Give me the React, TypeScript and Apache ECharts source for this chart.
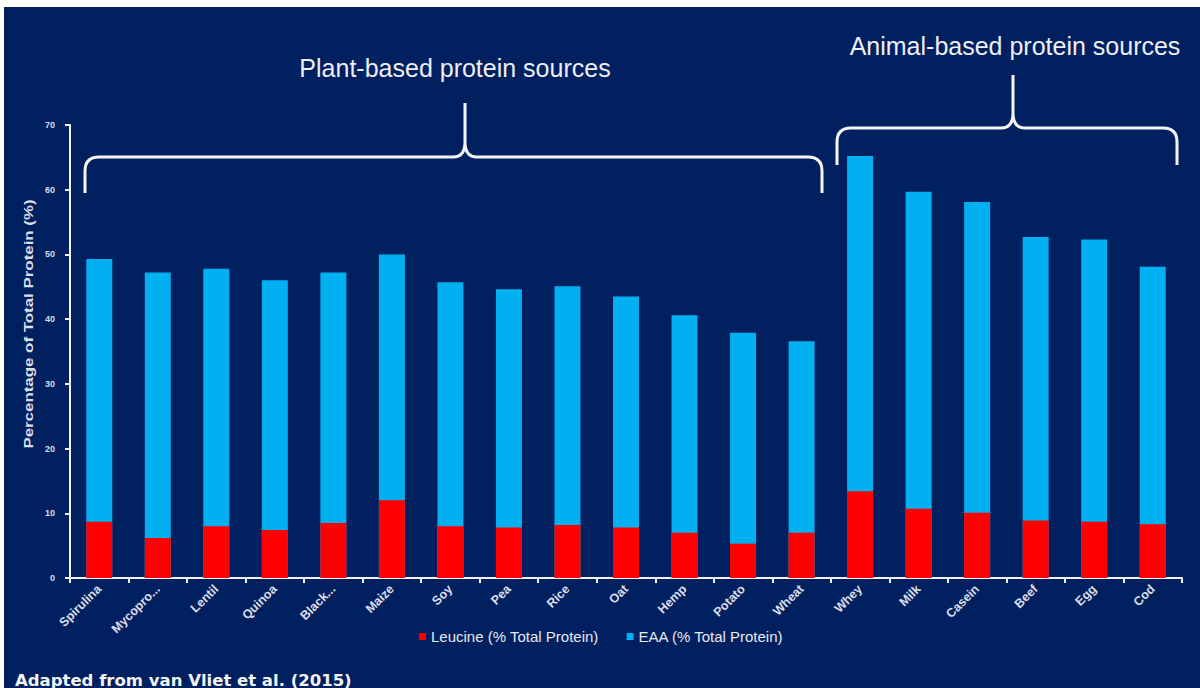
import React, { useEffect, useRef } from "react";
import * as echarts from "echarts";

const categories = ["Spirulina", "Mycopro...", "Lentil", "Quinoa", "Black...", "Maize", "Soy", "Pea", "Rice", "Oat", "Hemp", "Potato", "Wheat", "Whey", "Milk", "Casein", "Beef", "Egg", "Cod"];
const eaaValues = [49.3, 47.2, 47.8, 46.0, 47.2, 50.0, 45.7, 44.6, 45.1, 43.5, 40.6, 37.9, 36.6, 65.2, 59.7, 58.1, 52.7, 52.3, 48.1];
const leucineValues = [8.7, 6.2, 8.0, 7.4, 8.5, 12.0, 8.0, 7.8, 8.2, 7.8, 7.0, 5.3, 7.0, 13.4, 10.7, 10.1, 8.9, 8.7, 8.3];
const seriesNames = ["Leucine (% Total Protein)", "EAA (% Total Protein)"];
const groupLabels = ["Plant-based protein sources", "Animal-based protein sources"];
const yAxisName = "Percentage of Total Protein (%)";
const footnote = "Adapted from van Vliet et al. (2015)";

const BRACKETS =
  "M85,193 L85,171 Q85,157 99,157 L453,157 Q465,157 465,142 L465,103 M465,142 Q465,157 477,157 L808,157 Q822,157 822,171 L822,193 " +
  "M837,165 L837,142 Q837,128 851,128 L1001,128 Q1013,128 1013,113 L1013,75 M1013,113 Q1013,128 1025,128 L1163,128 Q1177,128 1177,142 L1177,165";

let registered = false;

export default function App() {
  const ref = useRef<HTMLDivElement>(null);
  useEffect(() => {
    if (!ref.current) return;
    if (!registered) {
      echarts.graphic.registerShape("brackets", echarts.graphic.extendPath(BRACKETS, {}));
      registered = true;
    }
    const chart = echarts.init(ref.current, null, { renderer: "svg" });
    const axisColor = "#f2f2f2";
    chart.setOption({
      animation: false,
      backgroundColor: "#ffffff",
      grid: { left: 70, right: 18, top: 125, bottom: 110, containLabel: false },
      legend: {
        data: seriesNames,
        left: 414,
        top: 624,
        icon: "rect",
        itemWidth: 7,
        itemHeight: 7,
        itemGap: 28,
        textStyle: { color: "#e8e8ee", fontSize: 15, fontFamily: "Liberation Sans, Arial, sans-serif" },
      },
      xAxis: {
        type: "category",
        data: categories,
        axisLine: { lineStyle: { color: axisColor, width: 2 } },
        axisTick: { show: true, length: 5, lineStyle: { color: axisColor, width: 2 } },
        axisLabel: {
          interval: 0,
          rotate: 45,
          margin: 9,
          color: "#dcdde6",
          fontSize: 12.5,
          fontWeight: "bold",
          fontFamily: "Liberation Sans, Arial, sans-serif",
        },
      },
      yAxis: {
        type: "value",
        min: 0,
        max: 70,
        interval: 10,
        axisLine: { show: true, lineStyle: { color: axisColor, width: 2 } },
        axisTick: { show: true, length: 5, lineStyle: { color: axisColor, width: 2 } },
        splitLine: { show: false },
        axisLabel: {
          margin: 15,
          color: "#dcdde6",
          fontSize: 9,
          fontWeight: "bold",
          fontFamily: "Liberation Sans, Arial, sans-serif",
        },
      },
      series: [
        {
          name: seriesNames[1],
          type: "bar",
          data: eaaValues,
          barWidth: 26,
          barGap: "-100%",
          itemStyle: { color: "#00b0f0" },
        },
        {
          name: seriesNames[0],
          type: "bar",
          data: leucineValues,
          barWidth: 26,
          barGap: "-100%",
          itemStyle: { color: "#ff0000" },
        },
      ],
      graphic: [
        { type: "rect", z: -10, silent: true, shape: { x: 4, y: 7, width: 1196, height: 681 }, style: { fill: "#002060" } },
        { type: "brackets", x: 0, y: 0, z: 10, silent: true, style: { fill: "none", stroke: "#f4f4f4", lineWidth: 3 } },
        {
          type: "text", x: 455, y: 68, z: 10, silent: true,
          style: { text: groupLabels[0], fill: "#eeeef4", font: "25px 'Liberation Sans', Arial, sans-serif", textAlign: "center", textVerticalAlign: "middle" },
        },
        {
          type: "text", x: 1015, y: 46, z: 10, silent: true,
          style: { text: groupLabels[1], fill: "#eeeef4", font: "25px 'Liberation Sans', Arial, sans-serif", textAlign: "center", textVerticalAlign: "middle" },
        },
        {
          type: "text", x: 28, y: 324, rotation: Math.PI / 2, scaleX: 1.3, z: 10, silent: true,
          style: { text: yAxisName, fill: "#dcdde6", font: "bold 13px 'Liberation Sans', Arial, sans-serif", textAlign: "center", textVerticalAlign: "middle" },
        },
        {
          type: "text", x: 15, y: 680, z: 10, silent: true,
          style: { text: footnote, fill: "#f4f4f4", font: "bold 16.5px 'DejaVu Sans', Verdana, sans-serif", textAlign: "left", textVerticalAlign: "middle" },
        },
      ],
    });
    return () => chart.dispose();
  }, []);
  return <div ref={ref} style={{ position: "fixed", left: 0, top: 0, width: 1200, height: 688 }} />;
}
